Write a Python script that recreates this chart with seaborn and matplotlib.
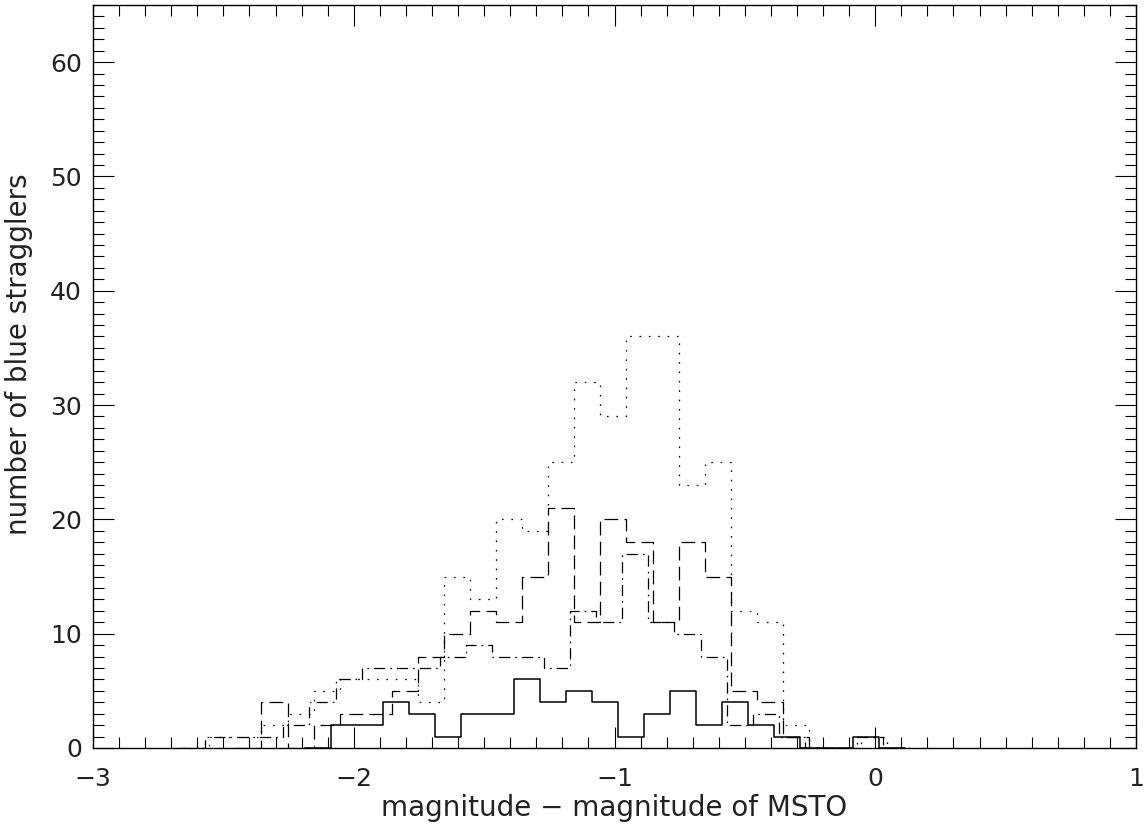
import numpy as np
import pandas as pd
import matplotlib
matplotlib.use("Agg")
import matplotlib.pyplot as plt
import seaborn as sns
from matplotlib.ticker import MultipleLocator, FixedLocator

BIN_WIDTH = 0.1

# Counts per 0.1-mag bin; each sample has its own left bin edge
solid_left = -2.087
solid_counts = [2, 2, 4, 3, 1, 3, 3, 6, 4, 5, 4, 1, 3, 5, 2, 4, 2, 1, 0, 0, 1]

dotted_left = -2.554
dotted_counts = [1, 1, 2, 3, 5, 6, 6, 6, 4, 15, 13, 20, 19, 25, 32, 29, 36, 36,
                 23, 25, 12, 11, 2, 0, 0, 1]

dashed_left = -2.354
dashed_counts = [4, 0, 2, 3, 3, 5, 8, 10, 12, 11, 15, 21, 11, 20, 18, 11, 18, 15,
                 5, 4, 1]

dashdot_left = -2.570
dashdot_counts = [1, 1, 1, 2, 4, 6, 7, 7, 7, 8, 9, 8, 8, 7, 12, 11, 17, 11, 10, 8,
                  2, 3, 1, 0, 0, 1]

x_ticks = [-3, -2, -1, 0, 1]
y_ticks = [0, 10, 20, 30, 40, 50, 60]

sns.set_style("ticks")
plt.rcParams["font.family"] = ["DejaVu Sans"]
plt.rcParams["text.color"] = "#222222"
plt.rcParams["xtick.labelcolor"] = "#222222"
plt.rcParams["ytick.labelcolor"] = "#222222"
plt.rcParams["axes.labelcolor"] = "#222222"

fig = plt.figure(figsize=(11.47, 8.31), dpi=100)
ax = fig.add_axes([0.0811, 0.0999, 0.9093, 0.8941])


def draw_hist(ax, left, counts, **style):
    counts = np.asarray(counts, dtype=float)
    padded = np.concatenate([[0.0], counts, [0.0]])
    edges = left - BIN_WIDTH + BIN_WIDTH * np.arange(len(padded) + 1)
    centers = edges[:-1] + BIN_WIDTH / 2
    df = pd.DataFrame({"mag": centers, "n": padded})
    sns.histplot(data=df, x="mag", weights="n", bins=list(edges), element="step",
                 fill=False, ax=ax, color="black", **style)


draw_hist(ax, dotted_left, dotted_counts, linewidth=0.9, linestyle=(0, (1.3, 6.2)))
draw_hist(ax, dashed_left, dashed_counts, linewidth=0.9, linestyle=(0, (11, 5)))
draw_hist(ax, dashdot_left, dashdot_counts, linewidth=0.9,
          linestyle=(0, (9, 4, 1.3, 4)))
draw_hist(ax, solid_left, solid_counts, linewidth=1.1, linestyle="-")

ax.set_xlim(-3, 1)
ax.set_ylim(0, 65)
ax.xaxis.set_major_locator(FixedLocator(x_ticks))
ax.yaxis.set_major_locator(FixedLocator(y_ticks))
ax.xaxis.set_minor_locator(MultipleLocator(0.1))
ax.yaxis.set_minor_locator(MultipleLocator(1))

for side in ["top", "right", "bottom", "left"]:
    ax.spines[side].set_visible(True)
    ax.spines[side].set_linewidth(1.0)
    ax.spines[side].set_color("black")

ax.tick_params(which="both", direction="in", top=True, right=True,
               color="black", width=0.8)
ax.tick_params(which="major", length=15)
ax.tick_params(which="minor", length=8)
ax.tick_params(axis="x", which="major", pad=14, labelsize=18)
ax.tick_params(axis="y", which="major", pad=8, labelsize=18)

ax.set_xlabel("magnitude \u2212 magnitude of MSTO", fontsize=20, labelpad=2)
ax.set_ylabel("number of blue stragglers", fontsize=20)
ax.yaxis.set_label_coords(-0.058, 0.53)

fig.savefig("out.png", dpi=100)
